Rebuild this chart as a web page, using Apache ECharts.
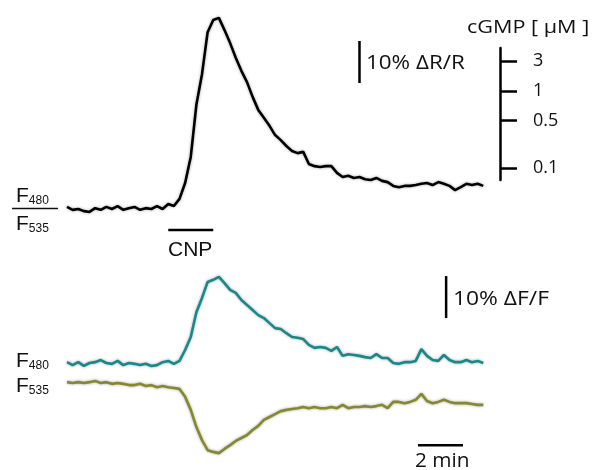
<!DOCTYPE html>
<html>
<head>
<meta charset="utf-8">
<script src="https://cdn.jsdelivr.net/npm/echarts@6/dist/echarts.min.js"></script>
<style>
html, body { margin: 0; padding: 0; background: #fff; }
#panel { width: 592px; height: 470px; }
</style>
</head>
<body>
<div id="panel"></div>
<script>
// one sample every 0.25 min, 0 - 18.5 min
var sampleMin = 0.25;

// F480/F535 ratio, % dR/R
var ratioTrace = [0.5, -0.2, 0, -0.5, -0.7, 0.2, -0.2, 0.5, 0, 0.7,
  -0.2, 0.2, 0.5, -0.2, 0.2, 0, 0.7, 0, 1.2, 0.7,
  2.4, 6.2, 12.4, 24.8, 32.1, 42.1, 45.0, 45.5, 42.6, 39.5,
  36.0, 32.9, 30.2, 26.7, 23.6, 21.7, 19.8, 17.6, 16.4, 15.0,
  13.8, 13.3, 13.6, 10.7, 10.2, 10.0, 10.2, 10.2, 8.6, 7.6,
  7.9, 7.4, 7.6, 7.1, 6.9, 7.4, 6.7, 6.4, 5.5, 5.2,
  5.5, 5.5, 5.7, 6.0, 6.2, 5.7, 6.4, 6.0, 5.5, 4.5,
  5.2, 6.0, 5.7, 6.0, 5.5];

// F480 (CFP), % dF/F
var f480Trace = [0.2, -0.5, 0.2, -0.7, 0, 0.2, 0.7, 0, -0.2, 0.5,
  -0.5, 0, -0.2, -0.5, -0.2, -0.7, -0.5, 0.2, 0.5, -0.2,
  0.5, 3.1, 6.2, 12.1, 15.5, 19.3, 19.8, 20.5, 19.0, 17.4,
  16.7, 15.0, 13.8, 12.6, 11.4, 10.7, 9.5, 8.3, 8.1, 7.1,
  6.2, 6.0, 5.7, 4.3, 3.6, 3.8, 3.6, 2.9, 3.8, 1.7,
  2.1, 1.9, 1.7, 1.4, 1.2, 2.1, 1.2, 1.2, 0, -0.2,
  0.2, 0.2, 0.5, 3.3, 1.7, 0.7, 0.5, 1.9, 0.7, 0.2,
  0.2, 0.7, 0.2, 0.5, 0];

// F535 (YFP), % dF/F
var f535Trace = [0.2, 0, 0.2, 0, 0.2, 0.5, 0, 0.2, -0.2, 0,
  -0.2, -0.5, -0.5, -0.2, -0.7, -0.5, -1.0, -0.7, -1.0, -1.2,
  -1.4, -3.3, -6.4, -10.5, -13.6, -16.0, -16.4, -16.7, -15.7, -14.8,
  -13.8, -13.1, -12.4, -11.2, -10.2, -8.8, -8.1, -7.4, -6.7, -6.4,
  -6.2, -6.0, -5.7, -6.0, -5.7, -6.0, -6.0, -5.7, -6.0, -5.2,
  -6.0, -5.7, -5.7, -5.5, -5.7, -5.5, -5.2, -6.0, -4.5, -4.5,
  -4.8, -4.5, -4.0, -2.6, -4.3, -4.8, -4.5, -4.0, -4.5, -4.8,
  -4.8, -4.8, -5.0, -5.2, -5.2];

// CNP application (min)
var cnpOn = [4.5, 6.5];
// cGMP calibration of the ratio (% dR/R)
var cgmpLabels = ['3', '1', '0.5', '0.1'];
var cgmpRatio = [35.2, 28.1, 21.0, 9.8];
var cgmpRange = [6.9, 38.3];
// scale bars
var ratioBar = [30, 40];     // 10 % dR/R
var fluoBar = [10.7, 20.7];  // 10 % dF/F
var timeBar = [15.6, 17.6];  // 2 min

var tMax = 18.5;
var teal = '#16898b';
var olive = '#85882b';

function toPairs(arr) {
  return arr.map(function (v, i) { return [i * sampleMin, v]; });
}

function trace(data, color, idx) {
  return {
    type: 'line', xAxisIndex: idx, yAxisIndex: idx, data: toPairs(data),
    symbol: 'none', clip: false, silent: true,
    lineStyle: { color: color, width: 2.6, shadowColor: 'rgba(0,0,0,0.35)', shadowBlur: 3 }
  };
}

function bar(data, idx) {
  return {
    type: 'line', xAxisIndex: idx, yAxisIndex: idx, data: data,
    symbol: 'none', clip: false, silent: true,
    lineStyle: { color: '#000', width: 2.5 }
  };
}

function label(text, x, y, size, sx, font) {
  return {
    type: 'text', left: x, top: y, scaleX: sx,
    style: { text: text, fontSize: size, fontFamily: font || 'Open Sans', fill: '#111' }
  };
}

function fLabel(sub, x, y) {
  return {
    type: 'text', left: x, top: y,
    style: {
      text: '{f|F}{s|' + sub + '}', fill: '#111',
      rich: {
        f: { fontSize: 21, fontFamily: 'Liberation Sans', verticalAlign: 'bottom', lineHeight: 22 },
        s: { fontSize: 12, fontFamily: 'Liberation Sans', verticalAlign: 'bottom', lineHeight: 18 }
      }
    }
  };
}

var hiddenX = { type: 'value', min: 0, max: tMax, show: false };

chartDom = document.getElementById('panel');
myChart = echarts.init(chartDom);

myChart.setOption({
  animation: false,
  grid: [
    { left: 67, width: 416.25, top: 11.6, height: 222.6 },
    { left: 67, width: 416.25, top: 258, height: 147 },
    { left: 67, width: 416.25, top: 341, height: 126 },
    { left: 500, width: 1, top: 48, height: 132 }
  ],
  xAxis: [
    Object.assign({ gridIndex: 0 }, hiddenX),
    Object.assign({ gridIndex: 1 }, hiddenX),
    Object.assign({ gridIndex: 2 }, hiddenX),
    { gridIndex: 3, type: 'value', min: 0, max: 1, show: false }
  ],
  yAxis: [
    { gridIndex: 0, type: 'value', min: -6, max: 47, show: false },
    { gridIndex: 1, type: 'value', min: -10, max: 25, show: false },
    { gridIndex: 2, type: 'value', min: -20, max: 10, show: false },
    {
      gridIndex: 3, type: 'value', position: 'right',
      min: cgmpRange[0], max: cgmpRange[1],
      splitLine: { show: false },
      axisLine: { show: true, lineStyle: { color: '#000', width: 2.5 } },
      axisTick: { show: true, length: 17, customValues: cgmpRatio, lineStyle: { color: '#000', width: 2.5 } },
      axisLabel: {
        show: true, margin: 32, customValues: cgmpRatio, color: '#111',
        fontSize: 18, fontFamily: 'Open Sans',
        formatter: function (v) { return cgmpLabels[cgmpRatio.indexOf(v)]; }
      }
    }
  ],
  series: [
    trace(ratioTrace, '#000', 0),
    trace(f480Trace, teal, 1),
    trace(f535Trace, olive, 2),
    bar([[cnpOn[0], -5], [cnpOn[1], -5]], 0),
    bar([[13.0, ratioBar[0]], [13.0, ratioBar[1]]], 0),
    bar([[16.85, fluoBar[0]], [16.85, fluoBar[1]]], 1),
    bar([[timeBar[0], -14.8], [timeBar[1], -14.8]], 2)
  ],
  graphic: [
    label('cGMP [ μM ]', 467, 19, 18, 1.2),
    label('10% ΔR/R', 366, 53, 20, 1.12),
    label('10% ΔF/F', 453, 289, 20, 1.14),
    label('CNP', 168, 240, 21, 1, 'Liberation Sans'),
    label('2 min', 415, 451, 20, 1.04),
    fLabel('480', 16, 186),
    { type: 'line', shape: { x1: 12, y1: 208.5, x2: 58, y2: 208.5 }, style: { stroke: '#111', lineWidth: 1.5 } },
    fLabel('535', 16, 214),
    fLabel('480', 16, 351),
    fLabel('535', 16, 376)
  ]
});
</script>
</body>
</html>
